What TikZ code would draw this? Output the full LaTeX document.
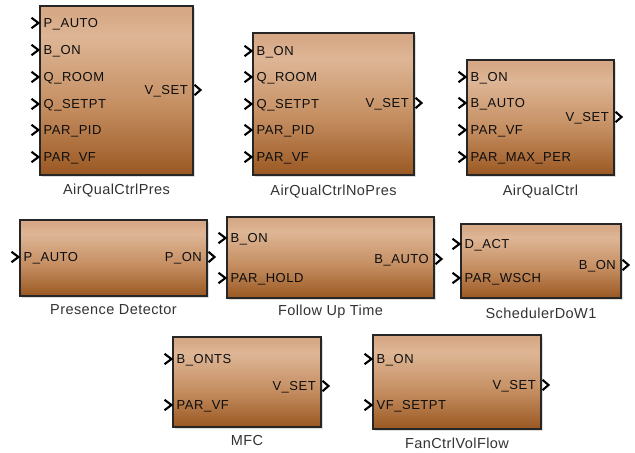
\documentclass[tikz,border=0pt]{standalone}
\usepackage{fontspec}
\setmainfont{Liberation Sans}
\newfontfamily\portface[LetterSpace=4]{Liberation Sans}
\newfontfamily\capface[LetterSpace=3]{Liberation Sans}
\usetikzlibrary{shadows}

% block body colours, bottom to top
\definecolor{shBot}{HTML}{9A5822}
\definecolor{shMid}{HTML}{C48D60}
\definecolor{shLight}{HTML}{DEB696}
\definecolor{shTop}{HTML}{D6A885}
\definecolor{edge}{HTML}{262626}
\pgfdeclareverticalshading{blockfill}{100bp}{%
  color(0bp)=(shBot); color(25bp)=(shBot); color(45bp)=(shMid);
  color(66bp)=(shLight); color(73bp)=(shTop); color(100bp)=(shTop)}

\tikzset{
  blk/.style={draw=edge, line width=1.3bp, shading=blockfill, anchor=north west,
    inner sep=0pt, outer sep=0pt,
    drop shadow={shadow xshift=2bp, shadow yshift=-2bp, fill=black!25, opacity=0.5}},
  inlab/.style={anchor=west, inner sep=0pt, text=black!95, text height=9.3bp, text depth=0pt,
    font=\portface\fontsize{13bp}{15bp}\selectfont},
  outlab/.style={inlab, anchor=east},
  caplab/.style={inner sep=0pt, text=black!80, text height=10.4bp, text depth=0pt,
    font=\capface\fontsize{14.5bp}{17bp}\selectfont},
  chevline/.style={draw=black, line width=2.1bp, line join=miter},
  inchev/.pic={\draw[chevline] (-8.5,-5.2) -- (-1.5,0) -- (-8.5,5.2);},
  outchev/.pic={\draw[chevline] (1.5,-5.2) -- (7.5,0) -- (1.5,5.2);}
}

% input port: block, index, row, text
\newcommand\inport[4]{%
  \node[inlab] (#1i#2) at ([xshift=3.5bp]#1.west |- 0,#3) {#4};
  \pic at (#1.west |- 0,#3) {inchev};}
% output port: block, row, text
\newcommand\outport[3]{%
  \node[outlab] (#1o) at ([xshift=-5bp]#1.east |- 0,#2) {#3};
  \pic at (#1.east |- 0,#2) {outchev};}
% block: name, left, top, right, bottom, caption row, caption
\newcommand\simblock[7]{%
  \node[blk, minimum width={(#4-#2)*1bp}, minimum height={(#5-#3)*1bp}] (#1) at (#2,#3) {};
  \node[caplab] (#1cap) at (#1.south |- 0,#6) {#7};}

\begin{document}
\begin{tikzpicture}[x=1bp, y=-1bp]
\fill[white] (0,0) rectangle (635,453);
\useasboundingbox (0,0) rectangle (635,453);

% top row
\simblock{aqp}{40}{6}{193}{175}{189}{AirQualCtrlPres}
\inport{aqp}{1}{23}{P\_AUTO}
\inport{aqp}{2}{50}{B\_ON}
\inport{aqp}{3}{77}{Q\_ROOM}
\inport{aqp}{4}{104}{Q\_SETPT}
\inport{aqp}{5}{130}{PAR\_PID}
\inport{aqp}{6}{157}{PAR\_VF}
\outport{aqp}{90}{V\_SET}

\simblock{aqn}{253}{33}{414}{175}{190}{AirQualCtrlNoPres}
\inport{aqn}{1}{51}{B\_ON}
\inport{aqn}{2}{77}{Q\_ROOM}
\inport{aqn}{3}{104}{Q\_SETPT}
\inport{aqn}{4}{130}{PAR\_PID}
\inport{aqn}{5}{157}{PAR\_VF}
\outport{aqn}{103}{V\_SET}

\simblock{aqc}{467}{60}{614}{175}{190}{AirQualCtrl}
\inport{aqc}{1}{77}{B\_ON}
\inport{aqc}{2}{103}{B\_AUTO}
\inport{aqc}{3}{130}{PAR\_VF}
\inport{aqc}{4}{157}{PAR\_MAX\_PER}
\outport{aqc}{117}{V\_SET}

% middle row
\simblock{pd}{20}{220}{207}{296}{309}{Presence Detector}
\inport{pd}{1}{257}{P\_AUTO}
\outport{pd}{257}{P\_ON}

\simblock{fut}{227}{217}{434}{298}{310}{Follow Up Time}
\inport{fut}{1}{238}{B\_ON}
\inport{fut}{2}{278}{PAR\_HOLD}
\outport{fut}{259}{B\_AUTO}

\simblock{sch}{461}{224}{621}{298}{313}{SchedulerDoW1}
\inport{sch}{1}{244}{D\_ACT}
\inport{sch}{2}{278}{PAR\_WSCH}
\outport{sch}{265}{B\_ON}

% bottom row
\simblock{mfc}{173}{337}{321}{427}{440}{MFC}
\inport{mfc}{1}{359}{B\_ONTS}
\inport{mfc}{2}{405}{PAR\_VF}
\outport{mfc}{386}{V\_SET}

\simblock{fcv}{373}{335}{541}{429}{443}{FanCtrlVolFlow}
\inport{fcv}{1}{359}{B\_ON}
\inport{fcv}{2}{405}{VF\_SETPT}
\outport{fcv}{385}{V\_SET}
\end{tikzpicture}
\end{document}
